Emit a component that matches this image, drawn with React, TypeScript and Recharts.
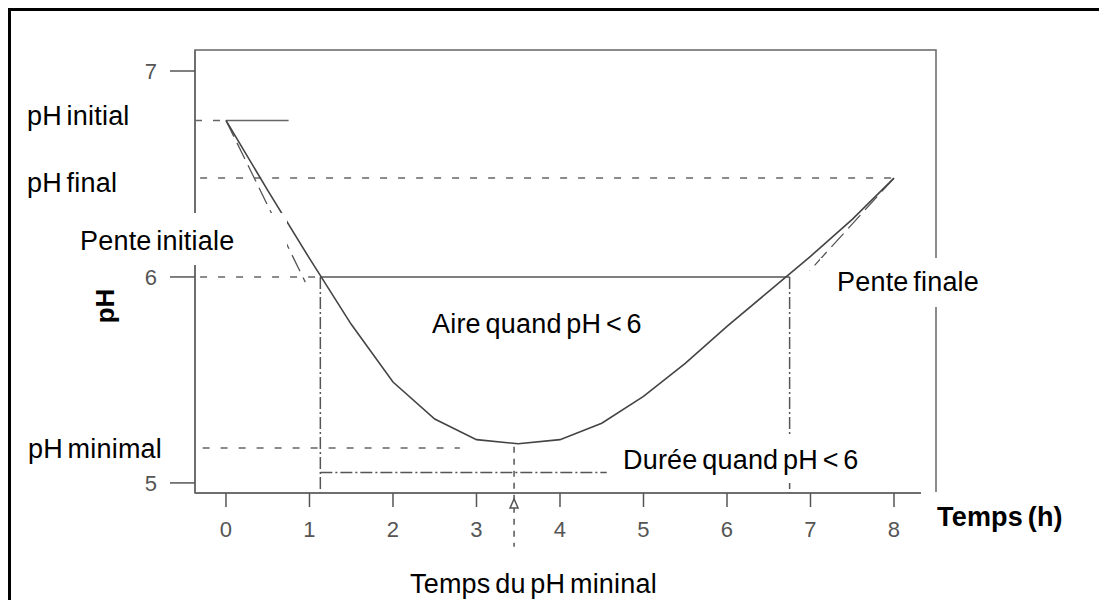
import React from "react";
import { LineChart, Line, XAxis, YAxis, ReferenceLine, ReferenceArea, ReferenceDot } from "recharts";

// pH curve, every half hour
const hours = [0, 0.5, 1, 1.5, 2, 2.5, 3, 3.5, 4, 4.5, 5, 5.5, 6, 6.5, 7, 7.5, 8];
const phValues = [6.76, 6.42, 6.09, 5.77, 5.49, 5.31, 5.21, 5.19, 5.21, 5.29, 5.42, 5.58, 5.76, 5.93, 6.1, 6.28, 6.48];
const xTicks = [0, 1, 2, 3, 4, 5, 6, 7, 8];
const yTicks = [5, 6, 7];

// key values of the diagram
const phInitial = 6.76;
const phFinal = 6.48;
const phThreshold = 6;
const phMinimal = 5.17;
const tPhMin = 3.45;
const tBelowStart = 1.13;
const tBelowEnd = 6.75;
const durationLevel = 5.05;
const durationEnd = 4.56;
const initialSlopeEnd = [0.95, 5.975];
const finalSlopeEnd = [6.99, 6.03];

const X_DOMAIN: [number, number] = [-0.371, 8.503];
const Y_DOMAIN: [number, number] = [4.951, 7.102];

const FONT = "'Liberation Sans', Arial, Helvetica, sans-serif";
const GREY = "#666";

const data = hours.map((t, i) => ({ t, ph: phValues[i] }));

const XTick = (props: any) => {
  const { x, y, payload } = props;
  return (
    <text x={x} y={y + 17} textAnchor="middle" fill="#555" fontSize={22} fontFamily={FONT}>
      {payload.value}
    </text>
  );
};

const YTick = (props: any) => {
  const { x, y, payload } = props;
  return (
    <text x={x} y={y + 8} textAnchor="end" fill="#555" fontSize={22} fontFamily={FONT}>
      {payload.value}
    </text>
  );
};

const ArrowHead = (props: any) => {
  const { cx, cy } = props;
  return (
    <path
      d={`M${cx},${cy - 5} L${cx - 4},${cy + 4} L${cx + 4},${cy + 4} Z`}
      fill="#fff"
      stroke="#555"
      strokeWidth={1.5}
    />
  );
};

const seg = (x1: number, y1: number, x2: number, y2: number) => [
  { x: x1, y: y1 },
  { x: x2, y: y2 },
];

// white patches the labels sit on (page coordinates)
const masks = [
  { x1: 76, y1: 213, x2: 287, y2: 265 },
  { x1: 820, y1: 258, x2: 995, y2: 307 },
  { x1: 612, y1: 435, x2: 928, y2: 483 },
  { x1: 921, y1: 492, x2: 1085, y2: 545 },
];

const notes = [
  { text: "pH initial", x: 27, y: 116 },
  { text: "pH final", x: 27, y: 183 },
  { text: "Pente initiale", x: 80, y: 241 },
  { text: "pH minimal", x: 28, y: 449 },
  { text: "Aire quand pH < 6", x: 432, y: 324 },
  { text: "Durée quand pH < 6", x: 623, y: 460 },
  { text: "Pente finale", x: 837, y: 282 },
  { text: "Temps (h)", x: 937, y: 517, bold: true },
  { text: "Temps du pH mininal", x: 410, y: 584 },
];

function Note({ text, x, y, bold }: { text: string; x: number; y: number; bold?: boolean }) {
  const size = 27;
  return (
    <div
      style={{
        position: "absolute",
        left: x - 8,
        top: y - 8 - 0.49 * size,
        fontSize: size,
        lineHeight: `${size}px`,
        fontWeight: bold ? 700 : 400,
        fontFamily: FONT,
        whiteSpace: "nowrap",
        letterSpacing: 0.2,
        wordSpacing: -3,
        color: "#000",
      }}
    >
      {text}
    </div>
  );
}

export default function App() {
  return (
    <div
      style={{
        position: "relative",
        width: 1096,
        height: 592,
        boxSizing: "border-box",
        borderTop: "3px solid #000",
        borderLeft: "3px solid #000",
        borderRight: "3px solid #000",
        background: "#fff",
      }}
    >
      <div style={{ position: "absolute", left: -3, top: -3 }}>
        <LineChart width={1096} height={592} data={data} margin={{ top: 42, right: 168, left: 127, bottom: 57 }}>
          <XAxis
            dataKey="t"
            type="number"
            domain={X_DOMAIN}
            allowDataOverflow
            ticks={xTicks}
            interval={0}
            height={50}
            tickSize={14}
            tickMargin={13}
            axisLine={{ stroke: GREY, strokeWidth: 1.5 }}
            tickLine={{ stroke: "#555", strokeWidth: 1.5 }}
            tick={<XTick />}
          />
          <YAxis
            type="number"
            domain={Y_DOMAIN}
            allowDataOverflow
            ticks={yTicks}
            interval={0}
            width={60}
            tickSize={25}
            tickMargin={13}
            axisLine={{ stroke: GREY, strokeWidth: 1.5 }}
            tickLine={{ stroke: "#555", strokeWidth: 1.5 }}
            tick={<YTick />}
          />
          <ReferenceArea
            x1={X_DOMAIN[0]}
            x2={X_DOMAIN[1]}
            y1={Y_DOMAIN[0]}
            y2={Y_DOMAIN[1]}
            fill="none"
            fillOpacity={0}
            stroke={GREY}
            strokeWidth={1.5}
            ifOverflow="visible"
          />
          {/* pH initial */}
          <ReferenceLine segment={seg(X_DOMAIN[0], phInitial, 0, phInitial)} stroke={GREY} strokeWidth={1.5} strokeDasharray="7 11" ifOverflow="visible" />
          <ReferenceLine segment={seg(0, phInitial, 0.75, phInitial)} stroke={GREY} strokeWidth={1.5} ifOverflow="visible" />
          {/* pH final */}
          <ReferenceLine segment={seg(-0.31, phFinal, 8, phFinal)} stroke={GREY} strokeWidth={1.5} strokeDasharray="7 11" ifOverflow="visible" />
          {/* pH 6 */}
          <ReferenceLine segment={seg(-0.31, phThreshold, tBelowStart, phThreshold)} stroke={GREY} strokeWidth={1.5} strokeDasharray="7 11" ifOverflow="visible" />
          <ReferenceLine segment={seg(tBelowStart, phThreshold, tBelowEnd, phThreshold)} stroke="#555" strokeWidth={1.5} ifOverflow="visible" />
          <ReferenceLine segment={seg(tBelowStart, phThreshold, tBelowStart, Y_DOMAIN[0])} stroke="#555" strokeWidth={1.5} strokeDasharray="12 3 2 3" ifOverflow="visible" />
          <ReferenceLine segment={seg(tBelowEnd, phThreshold, tBelowEnd, Y_DOMAIN[0])} stroke="#555" strokeWidth={1.5} strokeDasharray="12 3 2 3" ifOverflow="visible" />
          {/* pH minimal */}
          <ReferenceLine segment={seg(-0.28, phMinimal, 2.8, phMinimal)} stroke={GREY} strokeWidth={1.5} strokeDasharray="7 11" ifOverflow="visible" />
          {/* duration below 6 */}
          <ReferenceLine segment={seg(tBelowStart, durationLevel, durationEnd, durationLevel)} stroke="#555" strokeWidth={1.5} strokeDasharray="12 3 2 3" ifOverflow="visible" />
          {/* slopes */}
          <ReferenceLine segment={seg(0, phInitial, initialSlopeEnd[0], initialSlopeEnd[1])} stroke="#555" strokeWidth={1.3} strokeDasharray="18 7" ifOverflow="visible" />
          <ReferenceLine segment={seg(8, phFinal, finalSlopeEnd[0], finalSlopeEnd[1])} stroke="#555" strokeWidth={1.3} strokeDasharray="18 7" ifOverflow="visible" />
          {/* time of minimal pH */}
          <ReferenceLine segment={seg(tPhMin, 5.175, tPhMin, 4.69)} stroke="#555" strokeWidth={1.5} strokeDasharray="6 6" ifOverflow="visible" />
          <Line type="linear" dataKey="ph" stroke="#444" strokeWidth={1.6} dot={false} activeDot={false} isAnimationActive={false} />
          <ReferenceDot x={tPhMin} y={4.898} ifOverflow="visible" shape={ArrowHead} />
        </LineChart>
      </div>
      <div style={{ position: "absolute", left: -3, top: -3, width: 1096, height: 592 }}>
        {masks.map((m, i) => (
          <div
            key={i}
            style={{ position: "absolute", left: m.x1 - 8, top: m.y1 - 8, width: m.x2 - m.x1, height: m.y2 - m.y1, background: "#fff" }}
          />
        ))}
        {notes.map((n) => (
          <Note key={n.text} {...n} />
        ))}
        <div
          style={{
            position: "absolute",
            left: 105 - 8 - 30,
            top: 306 - 8 - 13,
            width: 60,
            height: 26,
            lineHeight: "26px",
            textAlign: "center",
            fontSize: 26,
            fontWeight: 700,
            fontFamily: FONT,
            transform: "rotate(-90deg)",
          }}
        >
          pH
        </div>
      </div>
    </div>
  );
}
